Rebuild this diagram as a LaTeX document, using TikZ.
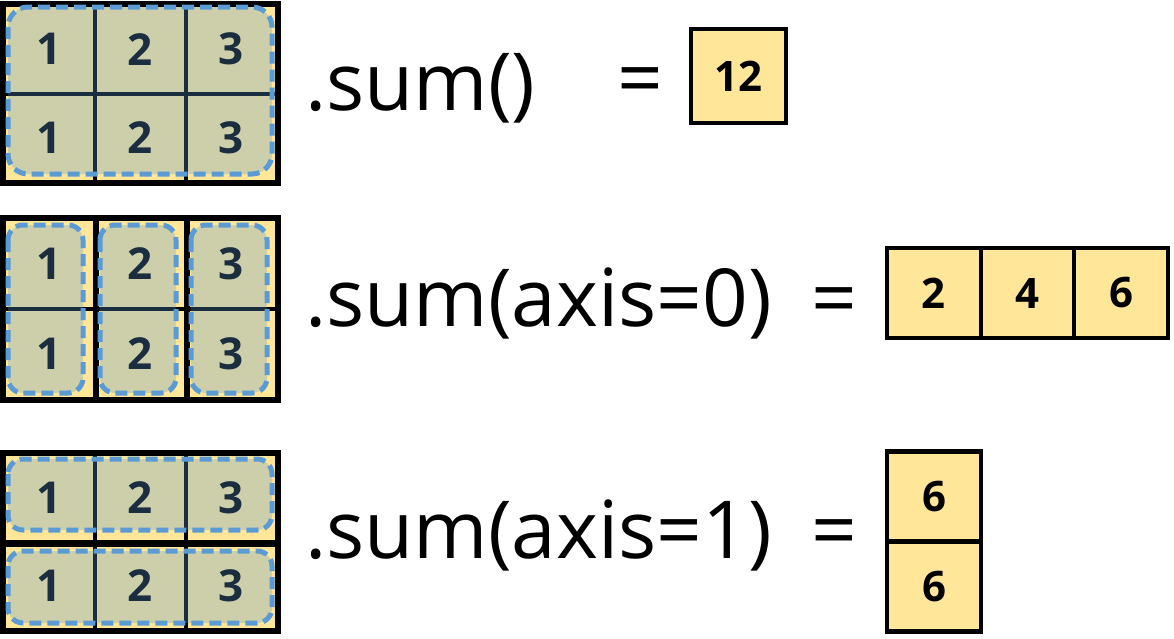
\documentclass[tikz,border=0pt]{standalone}
\usepackage{fontspec}
\setmainfont{Open Sans}
\definecolor{cellyellow}{HTML}{FFE699}
\definecolor{dashblue}{HTML}{5B9BD5}
\tikzset{
  cell/.style={draw=black, line width=4pt, fill=cellyellow, inner sep=0pt,
    minimum width=91pt, minimum height=88.5pt,
    font=\bfseries\fontsize{44}{50}\selectfont, text=black},
  rescell/.style={draw=black, line width=4.2pt, fill=cellyellow, inner sep=0pt,
    minimum width=94pt, minimum height=90pt,
    font=\bfseries\fontsize{42}{50}\selectfont, text=black},
  outerframe/.style={draw=black, line width=4.8pt},
  dashbox/.style={draw=dashblue, line width=5pt, dash pattern=on 12pt off 6pt,
    fill=dashblue, fill opacity=0.3},
  expr/.style={inner sep=0pt, anchor=base west, font=\fontsize{80}{96}\selectfont},
  eqsign/.style={inner sep=0pt, anchor=base, font=\fontsize{80}{96}\selectfont}
}
\begin{document}
\begin{tikzpicture}[x=1pt,y=-1pt]
\useasboundingbox (0,0) rectangle (1174,638);
\fill[white] (0,0) rectangle (1174,638);

% ---------- grid 1 ----------
\node[cell, minimum height=88.5pt] (a11) at (49.5,49.25) {1};
\node[cell, minimum height=88.5pt] (a12) at (140.5,49.25) {2};
\node[cell, minimum height=88.5pt] (a13) at (231.5,49.25) {3};
\node[cell, minimum height=88.5pt] (a21) at (49.5,137.75) {1};
\node[cell, minimum height=88.5pt] (a22) at (140.5,137.75) {2};
\node[cell, minimum height=88.5pt] (a23) at (231.5,137.75) {3};
\draw[outerframe] (a11.north west) rectangle (a23.south east);
\draw[dashbox, rounded corners=20pt] (8,7) rectangle (272,174);

% ---------- grid 2 ----------
\node[cell, minimum height=90pt] (b11) at (49.5,264) {1};
\node[cell, minimum height=90pt] (b12) at (140.5,264) {2};
\node[cell, minimum height=90pt] (b13) at (231.5,264) {3};
\node[cell, minimum height=90pt] (b21) at (49.5,354) {1};
\node[cell, minimum height=90pt] (b22) at (140.5,354) {2};
\node[cell, minimum height=90pt] (b23) at (231.5,354) {3};
\draw[outerframe] (b11.north west) rectangle (b23.south east);
\draw[line width=4.8pt] (b11.north east) -- (b21.south east);
\draw[line width=4.8pt] (b12.north east) -- (b22.south east);
\draw[dashbox, rounded corners=15pt] (8,225) rectangle (83,393);
\draw[dashbox, rounded corners=15pt] (100,225) rectangle (176,393);
\draw[dashbox, rounded corners=15pt] (191,225) rectangle (267,393);

% ---------- grid 3 ----------
\node[cell, minimum height=88pt] (c11) at (49.5,498) {1};
\node[cell, minimum height=88pt] (c12) at (140.5,498) {2};
\node[cell, minimum height=88pt] (c13) at (231.5,498) {3};
\node[cell, minimum height=88pt] (c21) at (49.5,586) {1};
\node[cell, minimum height=88pt] (c22) at (140.5,586) {2};
\node[cell, minimum height=88pt] (c23) at (231.5,586) {3};
\draw[outerframe] (c11.north west) rectangle (c23.south east);
\draw[line width=5.5pt] (c11.south west) -- (c13.south east);
\draw[dashbox, rounded corners=15pt] (8,459) rectangle (272,530);
\draw[dashbox, rounded corners=15pt] (8,551) rectangle (272,623);

% ---------- expressions ----------
\node[expr] (e1) at (305,110) {.sum()};
\node[expr] (e2) at (305,326) {.sum(axis=0)};
\node[expr] (e3) at (305,558) {.sum(axis=1)};
\node[eqsign] (q1) at (640.5,106) {=};
\node[eqsign] (q2) at (834,326) {=};
\node[eqsign] (q3) at (834,558) {=};

% ---------- results ----------
\node[rescell, minimum width=95pt, minimum height=94pt] (r1) at (738.5,76) {12};
\node[rescell, minimum width=93.7pt] (r21) at (933.8,293) {2};
\node[rescell, minimum width=93.7pt] (r22) at (1027.5,293) {4};
\node[rescell, minimum width=93.7pt] (r23) at (1121.2,293) {6};
\node[rescell] (r31) at (934,496.5) {6};
\node[rescell] (r32) at (934,586.5) {6};
\end{tikzpicture}
\end{document}
